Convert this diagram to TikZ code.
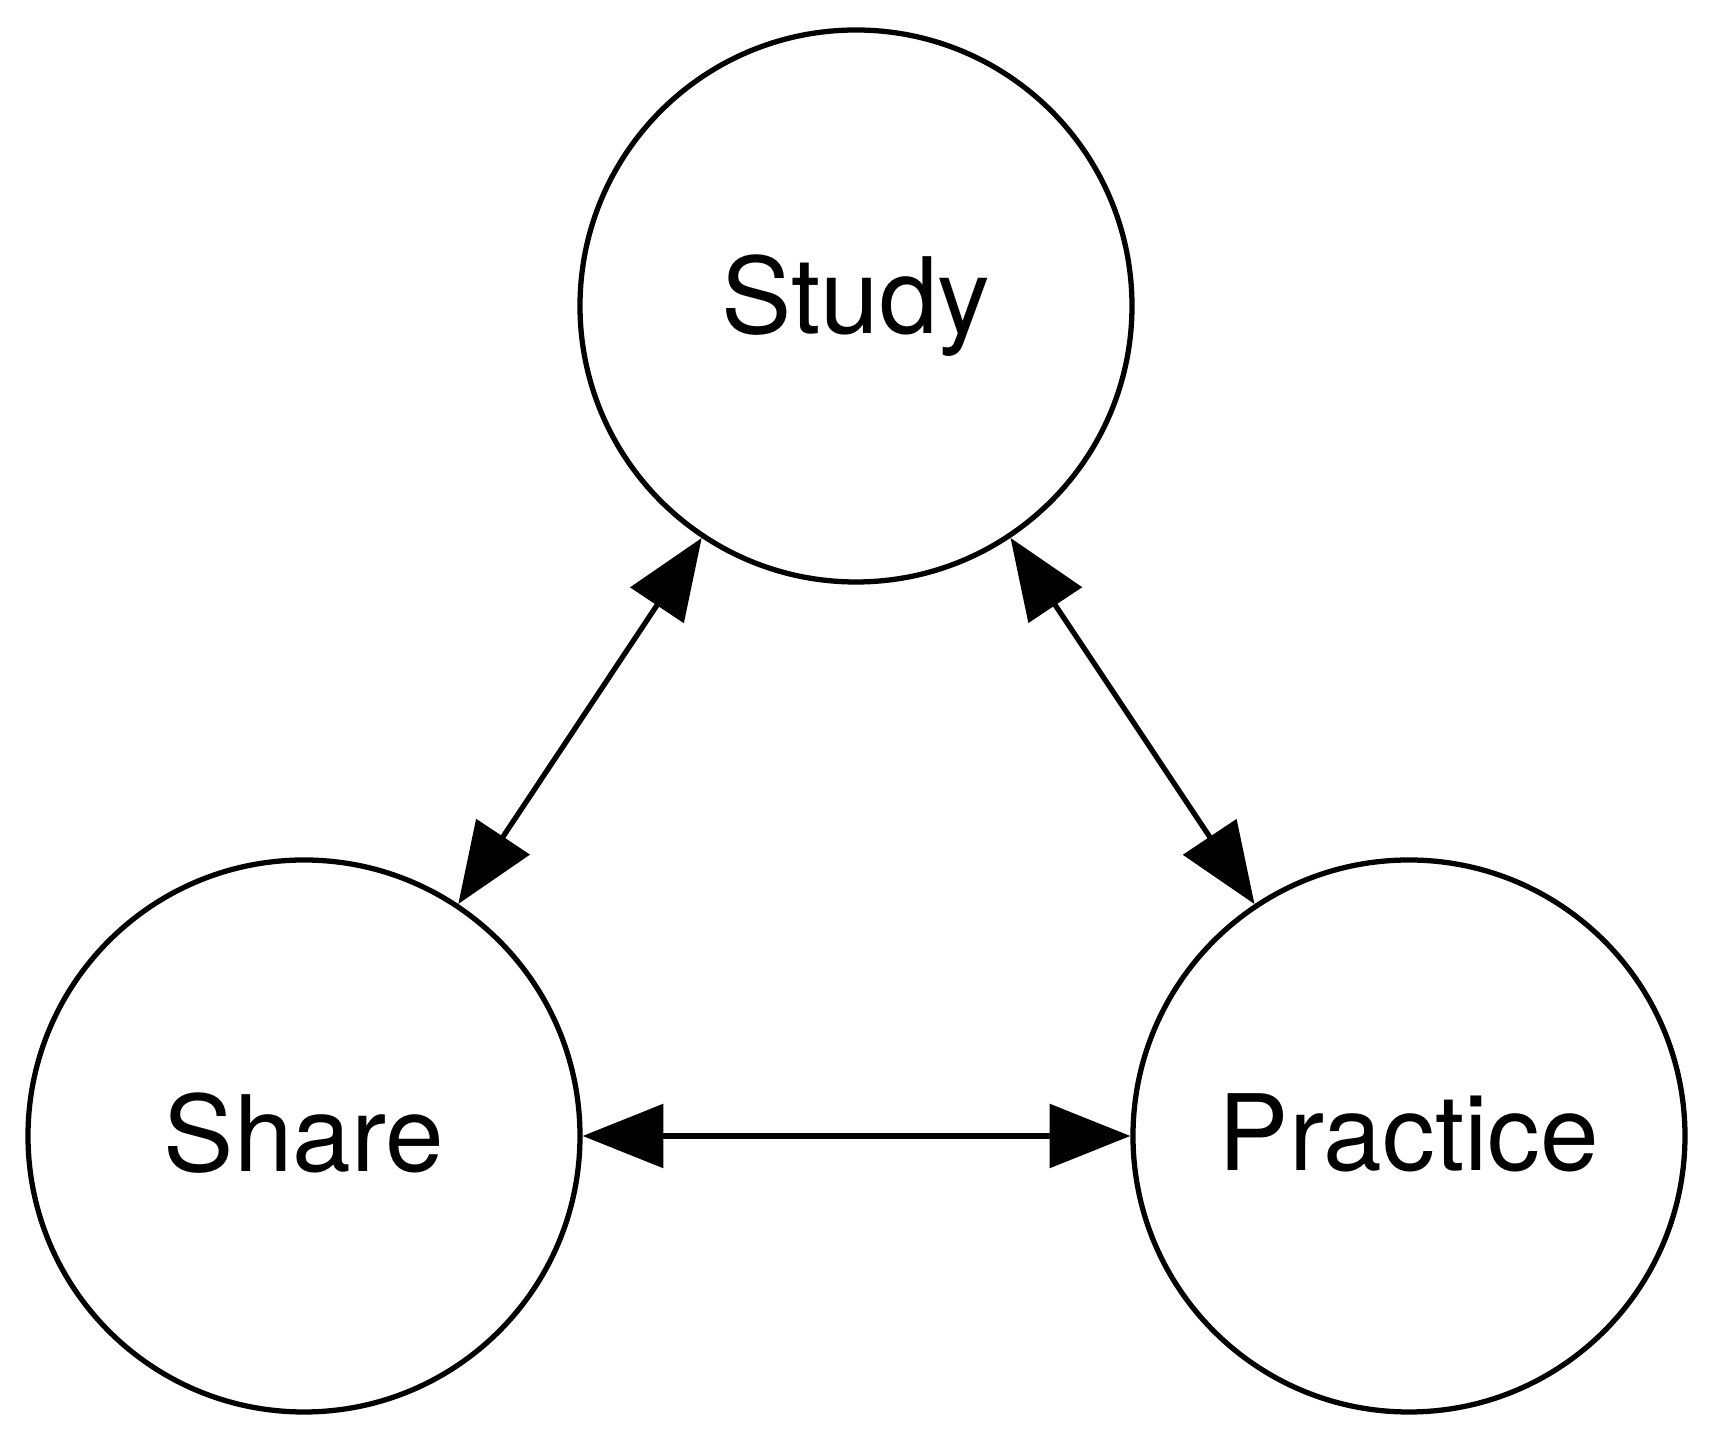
\documentclass[tikz,border=0pt]{standalone}
\usepackage{fontspec}
\setmainfont{TeX Gyre Heros}
\usetikzlibrary{arrows.meta}
\begin{document}
\begin{tikzpicture}
\useasboundingbox (0,0) rectangle (17.16,14.4);
\tikzset{
  cyc/.style={circle, draw=black, line width=1.5pt, minimum size=5.52cm, inner sep=0pt, font=\fontsize{30}{36}\selectfont},
  link/.style={line width=1.5pt, {Triangle[length=23pt,width=18pt]}-{Triangle[length=23pt,width=18pt]}}
}
\node[cyc] (study) at (8.56,11.34) {Study};
\node[cyc] (share) at (3.04,3.04) {\raisebox{2.2pt}{Share}};
\node[cyc] (practice) at (14.09,3.04) {\raisebox{2.2pt}{Practice}};
\draw[link] (study) -- (share);
\draw[link] (study) -- (practice);
\draw[link] (share) -- (practice);
\end{tikzpicture}
\end{document}
